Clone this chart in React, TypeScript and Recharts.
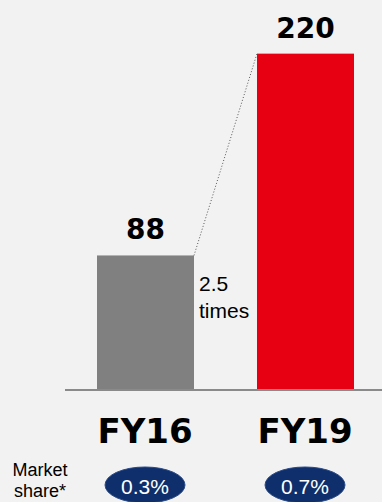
import { ComposedChart, Bar, XAxis, YAxis, LabelList, Cell } from 'recharts';

// Values
const years = ['FY16', 'FY19'];
const sales = [88, 220];
const marketShare = ['0.3%', '0.7%'];
const barColors = ['#808080', '#e60012'];
const growthLabel = ['2.5', 'times'];

const data = years.map((year, i) => ({ year, value: sales[i], share: marketShare[i] }));

const CHART_W = 385;
const CHART_H = 502;
const MARGIN = { top: 20, right: 0, bottom: 82, left: 65 };
const BAR_SIZE = 97;
const BG = '#f2f2f3';

const heavy = '"DejaVu Sans", sans-serif';
const plain = '"Liberation Sans", Arial, sans-serif';

const slot = (CHART_W - MARGIN.left - MARGIN.right) / years.length;

// bar plus, from the second bar on, the dotted connector from the previous bar's top corner
const BarWithLink = (props: any) => {
  const { x, y, width, height, fill, index } = props;
  const base = y + height;
  let link = null;
  if (index > 0) {
    const prevTop = base - (height * sales[index - 1]) / sales[index];
    const prevRight = x - slot + width;
    link = <line x1={prevRight} y1={prevTop} x2={x} y2={y} stroke="#555" strokeWidth={1} strokeDasharray="1 2" />;
  }
  return (
    <g>
      <rect x={x} y={y} width={width} height={height} fill={fill} />
      {link}
    </g>
  );
};

const YearTick = (props: any) => {
  const { x, y, payload, index } = props;
  return (
    <g>
      <text x={x} y={y + 51} textAnchor="middle" fontFamily={heavy} fontWeight={900} fontSize={34} fill="#000">
        {payload.value}
      </text>
      <ellipse cx={x} cy={y + 93} rx={40} ry={18} fill="#0f2f6c" stroke="#2a4a86" strokeWidth={1} />
      <text x={x} y={y + 102} textAnchor="middle" fontFamily={plain} fontSize={21} fill="#fff">
        {marketShare[index]}
      </text>
    </g>
  );
};

const ValueLabel = (props: any) => {
  const { x, y, width, value } = props;
  return (
    <text x={x + width / 2} y={y - 16} textAnchor="middle" fontFamily={heavy} fontWeight={900} fontSize={28} fill="#000">
      {value}
    </text>
  );
};

export default function App() {
  return (
    <div style={{ position: 'fixed', left: 0, top: 0, width: 382, height: 502, overflow: 'hidden', background: BG }}>
      <ComposedChart width={CHART_W} height={CHART_H} data={data} margin={MARGIN}>
        <XAxis
          dataKey="year"
          axisLine={{ stroke: '#8a8a8a', strokeWidth: 2 }}
          tickLine={false}
          tickSize={0}
          tick={<YearTick />}
          interval={0}
        />
        <YAxis domain={[0, 242]} hide />
        <Bar dataKey="value" barSize={BAR_SIZE} shape={<BarWithLink />} isAnimationActive={false}>
          {data.map((d, i) => (
            <Cell key={d.year} fill={barColors[i]} />
          ))}
          <LabelList dataKey="value" content={<ValueLabel />} />
        </Bar>
      </ComposedChart>
      <div style={{ position: 'absolute', left: 199, top: 270, fontFamily: plain, fontSize: 21, lineHeight: '27px', color: '#000' }}>
        {growthLabel.map((t) => (
          <div key={t}>{t}</div>
        ))}
      </div>
      <div style={{ position: 'absolute', left: 2, top: 460, width: 76, textAlign: 'center', fontFamily: plain, fontSize: 18, lineHeight: '21px', color: '#000' }}>
        Market
        <br />
        share*
      </div>
    </div>
  );
}
